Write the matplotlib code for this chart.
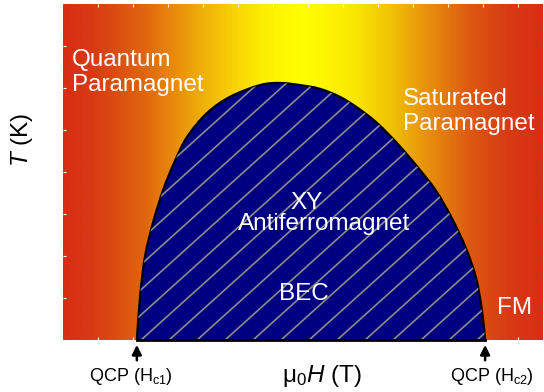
import numpy as np
import matplotlib
matplotlib.use("Agg")
import matplotlib.pyplot as plt
from matplotlib.colors import LinearSegmentedColormap
from matplotlib.patches import PathPatch
from matplotlib.path import Path

plt.rcParams["font.family"] = ["Liberation Sans", "DejaVu Sans"]
plt.rcParams["mathtext.fontset"] = "custom"
plt.rcParams["mathtext.rm"] = "Liberation Sans"
plt.rcParams["mathtext.it"] = "Liberation Sans:italic"

# Dome boundary of the ordered (BEC) phase
dome_H = [2.11, 2.20, 2.34, 2.57, 2.86, 3.17, 3.54, 4.11, 4.77, 5.63, 6.20,
          6.77, 7.34, 7.91, 8.43, 8.97, 9.54, 10.11, 10.66, 11.11, 11.51,
          11.80, 11.97, 12.06]
dome_T = [0.00, 1.02, 1.98, 2.79, 3.57, 4.21, 4.83, 5.40, 5.79, 6.07, 6.12,
          6.07, 5.98, 5.79, 5.52, 5.17, 4.69, 4.14, 3.55, 2.90, 2.19,
          1.48, 0.71, 0.00]

# Critical fields
qcp_H = [2.11, 12.06]
qcp_labels = [r"QCP (H$_{\mathrm{c1}}$)", r"QCP (H$_{\mathrm{c2}}$)"]

# Background colour stops (horizontal gradient)
bg_pos = [0.0, 0.06, 0.17, 0.27, 0.35, 0.42, 0.5, 0.6, 0.68, 0.76, 0.85, 0.93, 1.0]
bg_col = ["#D82E14", "#D93A14", "#E0660F", "#EDA40A", "#F6D005", "#FCF000",
          "#FFFF00", "#FAEA02", "#F2C406", "#E8900C", "#DE5812", "#D83A14",
          "#D82E14"]

xmax, ymax = 13.714, 8.0

fig = plt.figure(figsize=(5.44, 3.92), dpi=100)
ax = fig.add_axes([63 / 544, 52 / 392, 480 / 544, 336 / 392])

cmap = LinearSegmentedColormap.from_list("bg", list(zip(bg_pos, bg_col)))
grad = np.linspace(0, 1, 600)[None, :]
ax.imshow(grad, cmap=cmap, extent=[0, xmax, 0, ymax], aspect="auto",
          interpolation="bilinear", zorder=0)

# smooth outline through the read points (Catmull-Rom -> Bezier)
pts = np.column_stack([dome_H, dome_T])
ext = np.vstack([pts[0], pts, pts[-1]])
verts = [pts[0]]
codes = [Path.MOVETO]
for i in range(1, len(ext) - 2):
    p0, p1, p2, p3 = ext[i - 1], ext[i], ext[i + 1], ext[i + 2]
    verts += [p1 + (p2 - p0) / 6, p2 - (p3 - p1) / 6, p2]
    codes += [Path.CURVE4] * 3
verts.append(pts[0])
codes.append(Path.CLOSEPOLY)
dome = PathPatch(Path(verts, codes), facecolor="#000080", edgecolor="black",
                 lw=1.6, zorder=2)
ax.add_patch(dome)

# hatch lines clipped to the dome
slope = 0.75
h0 = 4.63
for k in range(-20, 20):
    start = h0 + 0.8 * k
    xs = np.array([start - 2, start + 12])
    ln, = ax.plot(xs, slope * (xs - start), color="#8C8C8C", lw=1.2, zorder=3)
    ln.set_clip_path(dome)

ax.plot([dome_H[0], dome_H[-1]], [0, 0], color="black", lw=2, zorder=4,
        clip_on=False)

ax.set_xlim(0, xmax)
ax.set_ylim(0, ymax)
for s in ax.spines.values():
    s.set_visible(False)
ax.set_xticks(np.arange(1, 14))
ax.set_yticks(np.arange(1, 8))
ax.tick_params(direction="in", color="white", length=2, width=0.8,
               labelleft=False, labelbottom=False, top=True)

txt = dict(color="white", fontsize=17.5, zorder=5)
ax.text(0.26, 6.92, "Quantum\nParamagnet", va="top", ha="left",
        linespacing=1.15, **txt)
ax.text(9.71, 6.0, "Saturated\nParamagnet", va="top", ha="left",
        linespacing=1.15, **txt)
ax.text(6.95, 3.52, "XY", ha="center", va="top", **txt)
ax.text(7.47, 3.03, "Antiferromagnet", ha="center", va="top", **txt)
ax.text(6.89, 1.35, "BEC", ha="center", va="top", **txt)
ax.text(12.91, 1.03, "FM", ha="center", va="top", **txt)

shifts = [-0.17, 0.2]
for h, lab, dx in zip(qcp_H, qcp_labels, shifts):
    ax.annotate("", xy=(h, -0.05), xytext=(h, -0.55),
                arrowprops=dict(arrowstyle="-|>", color="black", lw=1.8,
                                mutation_scale=14), annotation_clip=False)
    ax.text(h + dx, -0.62, lab, ha="center", va="top", fontsize=13)

ax.text(7.4, -0.55, r"$\mathregular{\mu_0}$$\mathit{H}$ (T)", ha="center",
        va="top", fontsize=17.5)
fig.text(22 / 544, 1 - 140 / 392, r"$\mathit{T}$ (K)", rotation=90,
         ha="center", va="center", fontsize=17.5)

fig.savefig("out.png", dpi=100)
